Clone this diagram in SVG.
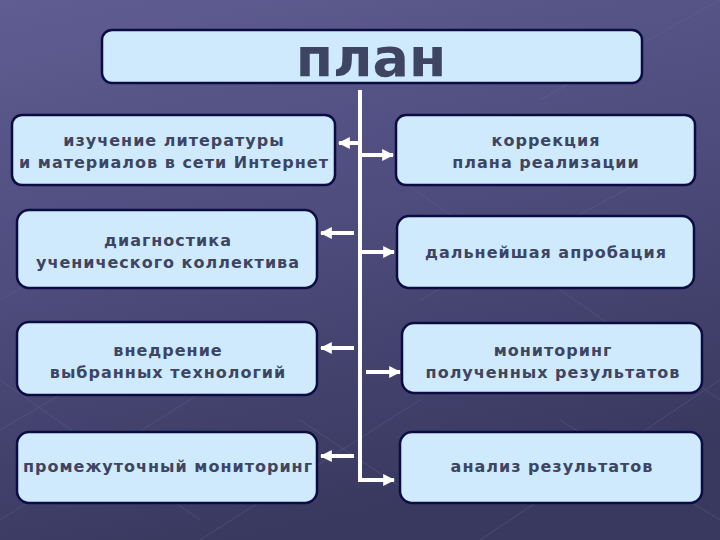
<svg xmlns="http://www.w3.org/2000/svg" width="720" height="540" viewBox="0 0 720 540">
<defs>
<linearGradient id="bg" x1="0" y1="0" x2="0.3" y2="1">
<stop offset="0" stop-color="#5f5d92"/>
<stop offset="0.5" stop-color="#4d4c7c"/>
<stop offset="1" stop-color="#393960"/>
</linearGradient>
<marker id="ah" viewBox="0 0 10 10" refX="9" refY="5" markerWidth="3" markerHeight="3" orient="auto" markerUnits="strokeWidth">
<path d="M0,0 L10,5 L0,10 Z" fill="#ffffff"/>
</marker>
<style>
.box{fill:#cfeafc;stroke:#0c0c45;stroke-width:2.5}
.t{font-family:"DejaVu Sans","Liberation Sans",sans-serif;font-weight:bold;font-size:16px;letter-spacing:1px;fill:#3d4562;text-anchor:middle}
.c{stroke:#ffffff;stroke-width:4;fill:none}
.grid{stroke:#6c6a9c;stroke-width:1;opacity:0.35;fill:none}
</style>
</defs>
<rect width="720" height="540" fill="url(#bg)"/>
<g class="grid">
<path d="M0,430 L120,360 M0,520 L300,330 M200,540 L420,400 M480,540 L720,380 M420,300 L700,150 M0,300 L160,210 M540,100 L720,0"/>
<path d="M0,380 L200,520 M300,420 L420,500 M560,420 L720,520 M400,180 L720,400"/>
</g>
<g id="title">
<rect class="box" x="102" y="30" width="540" height="53" rx="10"/>
<text x="371" y="76" font-family="'DejaVu Sans','Liberation Sans',sans-serif" font-weight="bold" font-size="54" fill="#3d4562" text-anchor="middle">план</text>
</g>
<g id="connectors">
<path class="c" d="M360,90 L360,480 L394,480" marker-end="url(#ah)"/>
<line class="c" x1="360" y1="143" x2="339" y2="143" marker-end="url(#ah)"/>
<line class="c" x1="360" y1="155" x2="393" y2="155" marker-end="url(#ah)"/>
<line class="c" x1="354" y1="233" x2="321" y2="233" marker-end="url(#ah)"/>
<line class="c" x1="361" y1="252" x2="394" y2="252" marker-end="url(#ah)"/>
<line class="c" x1="354" y1="348" x2="321" y2="348" marker-end="url(#ah)"/>
<line class="c" x1="366" y1="372" x2="400" y2="372" marker-end="url(#ah)"/>
<line class="c" x1="354" y1="456" x2="321" y2="456" marker-end="url(#ah)"/>
</g>
<g id="n1">
<rect class="box" x="12" y="115" width="323" height="70" rx="10"/>
<text class="t" x="174" y="146">изучение литературы</text>
<text class="t" x="174" y="168">и материалов в сети Интернет</text>
</g>
<g id="n2">
<rect class="box" x="17" y="210" width="300" height="78" rx="12"/>
<text class="t" x="168" y="246">диагностика</text>
<text class="t" x="168" y="268">ученического коллектива</text>
</g>
<g id="n3">
<rect class="box" x="17" y="322" width="300" height="73" rx="12"/>
<text class="t" x="168" y="356">внедрение</text>
<text class="t" x="168" y="378">выбранных технологий</text>
</g>
<g id="n4">
<rect class="box" x="17" y="432" width="300" height="71" rx="12"/>
<text class="t" x="168" y="472">промежуточный мониторинг</text>
</g>
<g id="n5">
<rect class="box" x="396" y="115" width="299" height="70" rx="10"/>
<text class="t" x="546" y="146">коррекция</text>
<text class="t" x="546" y="168">плана реализации</text>
</g>
<g id="n6">
<rect class="box" x="397" y="216" width="297" height="72" rx="12"/>
<text class="t" x="546" y="258">дальнейшая апробация</text>
</g>
<g id="n7">
<rect class="box" x="402" y="323" width="300" height="70" rx="12"/>
<text class="t" x="553" y="356">мониторинг</text>
<text class="t" x="553" y="378">полученных результатов</text>
</g>
<g id="n8">
<rect class="box" x="400" y="432" width="302" height="71" rx="12"/>
<text class="t" x="552" y="472">анализ результатов</text>
</g>
</svg>
